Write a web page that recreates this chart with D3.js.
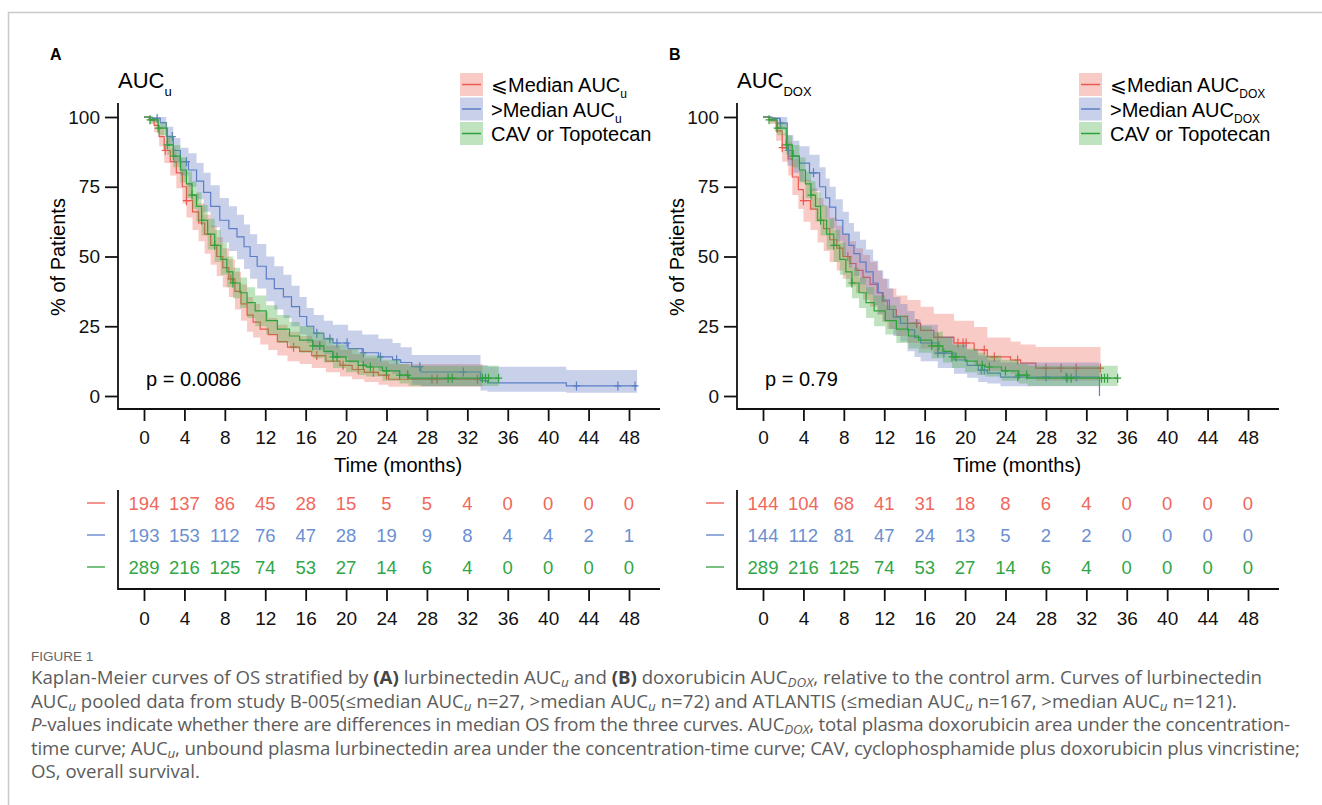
<!DOCTYPE html>
<html>
<head>
<meta charset="utf-8">
<script src="https://cdn.jsdelivr.net/npm/d3@7"></script>
<style>
  body { margin: 0; background: #fff; }
  svg { display: block; }
  text { font-family: "Liberation Sans", Arial, sans-serif; }
  .cap { font-family: "Open Sans", "Lato", sans-serif; font-size: 16px; fill: #5c5c5c; }
</style>
</head>
<body>
<svg id="fig" width="1322" height="805"></svg>
<script>
// Kaplan-Meier OS curves.
// Each row: [month, survival %, lower CI %, upper CI %]; last row closes the step.

const MONTH_TICKS = [0, 4, 8, 12, 16, 20, 24, 28, 32, 36, 40, 44, 48];
const PCT_TICKS = [0, 25, 50, 75, 100];

const A_LOW = [
  [0, 100, 100, 100], [0.5, 99, 97.5, 100], [1.0, 97, 94.5, 99.5], [1.5, 93, 89.5, 96.5],
  [2.0, 88, 83.5, 92.5], [2.6, 84, 79, 89], [3.2, 80, 74.5, 85.5], [3.8, 75, 69, 81],
  [4.2, 70, 64, 76.5], [4.8, 66, 59.5, 72.5], [5.4, 62, 55.5, 69], [6.0, 58, 51, 65],
  [6.6, 54, 47, 61], [7.2, 50, 43, 57], [7.8, 46, 39, 53], [8.4, 42, 35.5, 49],
  [9.0, 37.5, 31, 44.5], [9.6, 33, 27, 40], [10.2, 29, 23, 35.5], [10.8, 26.5, 21, 33],
  [11.5, 24, 18.5, 30], [12.3, 22, 16.5, 28], [13.2, 19.5, 14.5, 25.5], [14.2, 17.5, 12.5, 23],
  [15.4, 16, 11.5, 21.5], [16.6, 14.5, 10, 20], [18.0, 12.5, 8.5, 18], [19.4, 11, 7, 16.5],
  [20.6, 9.5, 6, 15], [21.8, 8.5, 5, 13.5], [23.2, 7.5, 4, 12.5], [24.2, 6, 3.3, 11.5],
  [33.5, 6, 3.3, 11.5]
];
const A_HIGH = [
  [0, 100, 100, 100], [0.8, 99.5, 98.5, 100], [1.6, 98, 96, 100], [2.2, 93, 89.5, 96.5],
  [2.9, 88, 83.5, 92.5], [3.6, 84, 79, 89], [4.4, 81, 75, 87], [5.2, 77, 70.5, 83.5],
  [5.9, 73, 66, 80], [6.6, 68, 60.5, 75.5], [7.5, 63, 55, 71], [8.4, 60, 52, 68],
  [9.2, 57, 49, 65], [9.9, 53.5, 45.5, 61.5], [10.5, 50, 42, 58], [11.2, 46.5, 38.5, 54.5],
  [12.1, 42, 34, 50], [12.9, 38.5, 31, 46.5], [13.8, 35.5, 28, 43.5], [14.6, 32, 25, 39.5],
  [15.4, 28.5, 22, 35.5], [16.1, 25, 19, 31.5], [16.8, 22.5, 16.5, 29], [17.8, 20.5, 15, 27],
  [18.7, 19, 13.5, 25.5], [20.2, 17, 12, 23.5], [21.6, 15.5, 10.5, 22], [23.2, 14, 9, 20.5],
  [24.6, 13, 8, 19], [25.4, 12, 6.5, 17.5], [26.5, 10.5, 4, 14.7], [27.4, 8.6, 3.5, 14.7],
  [33.3, 5.5, 2, 11], [34.0, 4.7, 1.5, 10.5], [41.8, 3.6, 1.2, 9.3], [48.8, 3.6, 1.2, 9.3]
];
const CAV = [
  [0, 100, 100, 100], [0.6, 99, 98, 100], [1.4, 96, 93.5, 98], [2.3, 90, 86.5, 93.5],
  [2.9, 86, 82, 90], [3.6, 81, 76.5, 85.5], [4.2, 76, 71, 80.5], [4.75, 72, 67, 77],
  [5.2, 68, 62.5, 73], [5.7, 63, 57.5, 68.5], [6.3, 58, 52.5, 63.5], [7.0, 54, 48, 59.5],
  [7.6, 49, 43.5, 55], [8.2, 44.5, 39, 50], [8.8, 40.5, 35, 46], [9.5, 37, 31.5, 42.5],
  [10.2, 33.5, 28, 39], [11.0, 30.5, 25, 36], [12.1, 27, 22, 32.5], [13.2, 24, 19, 29],
  [14.4, 21.5, 17, 26.5], [15.4, 20, 15.5, 25], [16.7, 18, 13.5, 23], [17.8, 16, 12, 21],
  [18.7, 14, 10, 18.5], [20.0, 12.5, 8.5, 17], [21.2, 11, 7.5, 15.5], [22.0, 10.4, 7, 14.5],
  [23.6, 9, 5.5, 13], [25.3, 7.5, 4.5, 11.5], [26.2, 6.4, 3.6, 10.8], [35.1, 6.4, 3.6, 10.8]
];
const B_LOW = [
  [0, 100, 100, 100], [0.7, 99, 97.5, 100], [1.3, 95, 91.5, 98.5], [1.9, 89, 84, 94],
  [2.5, 85, 79, 91], [2.9, 78.5, 72, 85], [3.5, 74, 67, 81], [4.0, 70, 62.5, 77.5],
  [4.7, 67, 59.5, 74.5], [5.4, 63, 55, 71], [6.0, 60, 52, 68], [6.6, 56, 48, 64],
  [7.3, 53, 45, 61], [7.9, 50, 42, 58], [8.6, 47.5, 39.5, 55.5], [9.2, 45, 37, 53],
  [9.9, 42.5, 34.5, 50.5], [10.6, 40, 32, 48], [11.3, 37, 29, 45], [11.8, 34, 26.5, 42],
  [12.3, 31, 24, 38.5], [13.2, 28.5, 21.5, 36], [14.3, 26, 19, 34.4], [15.6, 23.5, 17, 32],
  [16.9, 21, 15, 29.5], [18.9, 19, 13, 27], [20.9, 16.5, 11, 24.7], [22.2, 14, 9, 21],
  [24.5, 12.9, 8, 19.5], [25.5, 11.8, 7, 18.5], [27.0, 10, 5.5, 17.6], [33.4, 10, 5.5, 17.6]
];
const B_HIGH = [
  [0, 100, 100, 100], [0.9, 99.5, 98.5, 100], [1.7, 97.8, 95.5, 100], [2.4, 88, 82.5, 93.5],
  [3.0, 86, 80, 91.5], [3.6, 83.5, 77, 89.5], [4.6, 80, 73.5, 86.5], [5.6, 75, 68, 82],
  [6.2, 71, 63.5, 78], [6.6, 67.7, 60, 75], [7.2, 63, 55.5, 70.5], [7.9, 58, 50, 66],
  [8.5, 54, 46, 62], [9.0, 51, 43, 59], [9.6, 48, 40, 56], [10.2, 44.5, 36.5, 52.5],
  [10.9, 40.5, 32.5, 48.5], [11.4, 37, 29.5, 45], [11.9, 34.4, 27, 42], [12.5, 31, 24, 38.5],
  [12.9, 28.3, 21.5, 35.5], [13.6, 26, 19.5, 33], [14.3, 23.7, 16, 30.5], [15.0, 21, 14, 27.5],
  [15.6, 19, 12.5, 25.5], [17.3, 15.4, 10, 21.5], [18.9, 12.9, 8, 18.5], [20.2, 11, 6.5, 16.5],
  [21.3, 9.3, 5, 14.5], [22.2, 8.2, 4.5, 13], [23.5, 6.8, 3.5, 12], [33.3, 0, 0, 0]
];

// censored observations (months)
const CENS_A_LOW = [2.1, 4.2, 8.6, 14.8, 17.1, 19.7, 21.2, 22.7, 24.0, 28.5, 29.0, 33.0];
const CENS_A_HIGH = [1.3, 2.8, 4.2, 17.1, 18.4, 19.1, 20.1, 21.7, 23.4, 25.0, 27.3, 31.6, 42.8, 46.9, 48.6];
const CENS_CAV = [0.6, 1.4, 2.3, 2.9, 4.75, 5.7, 7.0, 8.8, 16.7, 17.4, 18.7, 19.1, 21.7, 22.4, 24.0,
  25.3, 26.1, 30.1, 30.5, 33.5, 33.8, 34.1, 35.1];
const CENS_B_LOW = [1.9, 4.0, 8.4, 15.2, 17.3, 19.3, 19.8, 20.1, 21.9, 22.9, 25.2, 28.0, 29.5, 31.0, 33.4];
const CENS_B_HIGH = [1.7, 2.5, 5.0, 17.3, 17.9, 21.6, 21.9, 25.2, 28.0, 30.0, 31.0];

// numbers at risk at MONTH_TICKS
const RISK_A_LOW = [194, 137, 86, 45, 28, 15, 5, 5, 4, 0, 0, 0, 0];
const RISK_A_HIGH = [193, 153, 112, 76, 47, 28, 19, 9, 8, 4, 4, 2, 1];
const RISK_CAV = [289, 216, 125, 74, 53, 27, 14, 6, 4, 0, 0, 0, 0];
const RISK_B_LOW = [144, 104, 68, 41, 31, 18, 8, 6, 4, 0, 0, 0, 0];
const RISK_B_HIGH = [144, 112, 81, 47, 24, 13, 5, 2, 2, 0, 0, 0, 0];

const COLORS = {
  low: { line: '#ea5a50', band: 'rgba(239,111,97,0.36)', text: '#f0675c' },
  high: { line: '#5b7ec6', band: 'rgba(90,112,192,0.33)', text: '#6b8fd2' },
  cav: { line: '#2ea13d', band: 'rgba(61,170,58,0.33)', text: '#31a646' }
};

const svg = d3.select('#fig');

// outer frame (top and left edges visible)
svg.append('line').attr('x1', 8).attr('x2', 1322).attr('y1', 12.5).attr('y2', 12.5)
  .attr('stroke', '#c9c9c9').attr('stroke-width', 1.5);
svg.append('line').attr('x1', 8.5).attr('x2', 8.5).attr('y1', 12).attr('y2', 805)
  .attr('stroke', '#c9c9c9').attr('stroke-width', 1.5);

function stepValue(rows, t) {
  let v = rows[0][1];
  rows.forEach(r => { if (r[0] <= t) v = r[1]; });
  return v;
}

function addSub(textSel, main, sub, subSize, dy) {
  textSel.append('tspan').text(main);
  textSel.append('tspan').attr('font-size', subSize).attr('dy', dy).text(sub);
}

function drawPanel(ox, p) {
  const g = svg.append('g').attr('transform', `translate(${ox},0)`);
  const x = d3.scaleLinear().domain([0, 48]).range([144, 629]);
  const y = d3.scaleLinear().domain([0, 100]).range([396, 117]);

  g.append('text').attr('x', 50).attr('y', 60).attr('font-weight', 'bold')
    .attr('font-size', '16px').text(p.letter);

  addSub(g.append('text').attr('x', 118).attr('y', 88).attr('font-size', '22px'),
    'AUC', p.sub, '13px', 8);

  // curves: band then line, per series
  const band = d3.area().curve(d3.curveStepAfter)
    .x(d => x(d[0])).y0(d => y(d[2])).y1(d => y(d[3]));
  const line = d3.line().curve(d3.curveStepAfter)
    .x(d => x(d[0])).y(d => y(d[1]));

  p.series.forEach(s => {
    g.append('path').attr('d', band(s.rows)).attr('fill', COLORS[s.key].band);
    g.append('path').attr('d', line(s.rows)).attr('fill', 'none')
      .attr('stroke', COLORS[s.key].line).attr('stroke-width', 1.2);
    g.append('g').selectAll('path').data(s.cens).join('path')
      .attr('d', t => {
        const cx = x(t), cy = y(stepValue(s.rows, t));
        return `M${cx},${cy - 4.5}V${cy + 4.5}M${cx - 3.5},${cy}H${cx + 3.5}`;
      })
      .attr('stroke', COLORS[s.key].line).attr('stroke-width', 1.2);
  });

  // axes
  const xAxis = g.append('g').attr('transform', 'translate(0,409)')
    .call(d3.axisBottom(x).tickValues(MONTH_TICKS).tickSize(12).tickPadding(10));
  const yAxis = g.append('g').attr('transform', 'translate(118,0)')
    .call(d3.axisLeft(y).tickValues(PCT_TICKS).tickSize(13).tickPadding(5));
  [xAxis, yAxis].forEach(a => {
    a.select('.domain').remove();
    a.attr('font-family', null).attr('font-size', '19px');
    a.selectAll('line').attr('stroke', '#111').attr('stroke-width', 1.8);
    a.selectAll('text').attr('fill', '#111');
  });
  g.append('path').attr('d', 'M118,103V409H660').attr('fill', 'none')
    .attr('stroke', '#111').attr('stroke-width', 1.8);

  g.append('text').attr('x', 398).attr('y', 472).attr('text-anchor', 'middle')
    .attr('font-size', '20px').text('Time (months)');
  g.append('text').attr('transform', 'translate(65,257) rotate(-90)')
    .attr('text-anchor', 'middle').attr('font-size', '20px').text('% of Patients');

  g.append('text').attr('x', 146).attr('y', 386).attr('font-size', '20px').text(p.pval);

  // legend
  const leg = g.append('g');
  p.series.forEach((s, i) => {
    const top = 73 + i * 24.5;
    leg.append('rect').attr('x', 460).attr('y', top).attr('width', 23).attr('height', 23)
      .attr('fill', COLORS[s.key].band);
    leg.append('line').attr('x1', 462).attr('x2', 481).attr('y1', top + 11.5).attr('y2', top + 11.5)
      .attr('stroke', COLORS[s.key].line).attr('stroke-width', 1.5);
    const t = leg.append('text').attr('x', 491).attr('y', top + 19).attr('font-size', '20px');
    if (s.legSub) addSub(t, s.label, s.legSub, '12px', 6);
    else t.text(s.label);
  });

  // numbers at risk
  const rg = g.append('g');
  p.series.forEach((s, i) => {
    const cy = 503 + i * 32;
    rg.append('line').attr('x1', 87).attr('x2', 105).attr('y1', cy).attr('y2', cy)
      .attr('stroke', COLORS[s.key].line).attr('stroke-width', 1.3);
    rg.selectAll(null).data(s.risk).join('text')
      .attr('x', (d, j) => x(MONTH_TICKS[j])).attr('y', cy + 6.5)
      .attr('text-anchor', 'middle').attr('font-size', '18.5px')
      .attr('fill', COLORS[s.key].text).text(d => d);
  });
  const rAxis = g.append('g').attr('transform', 'translate(0,589)')
    .call(d3.axisBottom(x).tickValues(MONTH_TICKS).tickSize(12).tickPadding(11));
  rAxis.select('.domain').remove();
  rAxis.attr('font-family', null).attr('font-size', '19px');
  rAxis.selectAll('line').attr('stroke', '#111').attr('stroke-width', 1.8);
  rAxis.selectAll('text').attr('fill', '#111');
  g.append('path').attr('d', 'M118,490V589H660').attr('fill', 'none')
    .attr('stroke', '#111').attr('stroke-width', 1.8);
}

drawPanel(0, {
  letter: 'A', sub: 'u', pval: 'p = 0.0086',
  series: [
    { key: 'low', rows: A_LOW, cens: CENS_A_LOW, risk: RISK_A_LOW, label: '\u2A7DMedian AUC', legSub: 'u' },
    { key: 'high', rows: A_HIGH, cens: CENS_A_HIGH, risk: RISK_A_HIGH, label: '>Median AUC', legSub: 'u' },
    { key: 'cav', rows: CAV, cens: CENS_CAV, risk: RISK_CAV, label: 'CAV or Topotecan' }
  ]
});
drawPanel(619, {
  letter: 'B', sub: 'DOX', pval: 'p = 0.79',
  series: [
    { key: 'low', rows: B_LOW, cens: CENS_B_LOW, risk: RISK_B_LOW, label: '\u2A7DMedian AUC', legSub: 'DOX' },
    { key: 'high', rows: B_HIGH, cens: CENS_B_HIGH, risk: RISK_B_HIGH, label: '>Median AUC', legSub: 'DOX' },
    { key: 'cav', rows: CAV, cens: CENS_CAV, risk: RISK_CAV, label: 'CAV or Topotecan' }
  ]
});

// caption
svg.append('text').attr('x', 31).attr('y', 661).attr('font-family', '"Open Sans", sans-serif')
  .attr('font-size', '13.5px').attr('fill', '#666').text('FIGURE 1');

const CAPTION = [
  [['Kaplan-Meier curves of OS stratified by '], ['(A)', 'b'], [' lurbinectedin AUC'], ['u', 'sub'],
   [' and '], ['(B)', 'b'], [' doxorubicin AUC'], ['DOX', 'sub'],
   [', relative to the control arm. Curves of lurbinectedin']],
  [['AUC'], ['u', 'sub'], [' pooled data from study B-005(\u2264median AUC'], ['u', 'sub'],
   [' n=27, >median AUC'], ['u', 'sub'], [' n=72) and ATLANTIS (\u2264median AUC'], ['u', 'sub'],
   [' n=167, >median AUC'], ['u', 'sub'], [' n=121).']],
  [['P', 'i'], ['-values indicate whether there are differences in median OS from the three curves. AUC'],
   ['DOX', 'sub'], [', total plasma doxorubicin area under the concentration-']],
  [['time curve; AUC'], ['u', 'sub'],
   [', unbound plasma lurbinectedin area under the concentration-time curve; CAV, cyclophosphamide plus doxorubicin plus vincristine;']],
  [['OS, overall survival.']]
];
// printed line ends (px from the left margin) for the wrapped lines
const CAP_WIDTHS = [1231, 1206, 1259, 1269, null];

const capLines = CAPTION.map((segs, i) => {
  const t = svg.append('text').attr('class', 'cap').attr('x', 31).attr('y', 684 + i * 23.6);
  let shift = 0;
  segs.forEach(([txt, st]) => {
    const ts = t.append('tspan').text(txt);
    if (st === 'sub') {
      ts.attr('font-style', 'italic').attr('font-size', '0.72em').attr('dy', 3 - shift);
      shift = 3;
    } else {
      if (shift) { ts.attr('dy', -shift); shift = 0; }
      if (st === 'b') ts.attr('font-weight', 'bold').attr('fill', '#444');
      if (st === 'i') ts.attr('font-style', 'italic');
    }
  });
  return t;
});
// size the caption from the first line, then nudge each wrapped line to its printed end
const natural = capLines[0].node().getComputedTextLength();
const capSize = 16 * 1231 / natural;
capLines.forEach((t, i) => {
  t.style('font-size', `${capSize}px`);
  if (CAP_WIDTHS[i]) t.attr('textLength', CAP_WIDTHS[i]).attr('lengthAdjust', 'spacing');
});
</script>
</body>
</html>
